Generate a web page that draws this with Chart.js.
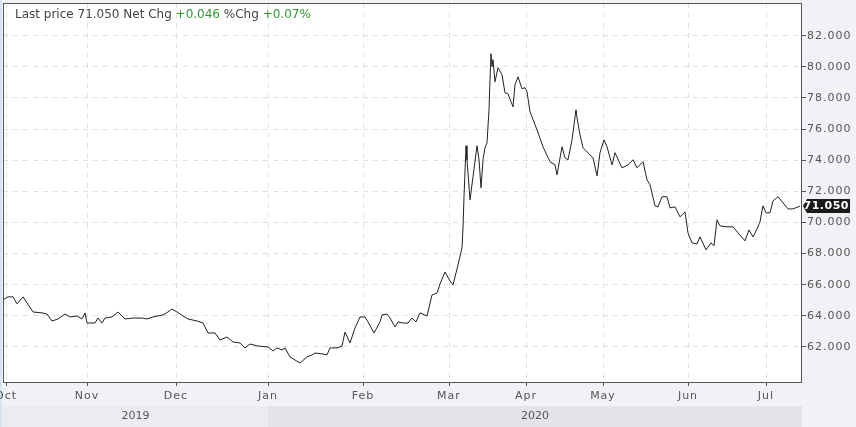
<!DOCTYPE html>
<html>
<head>
<meta charset="utf-8">
<script src="https://cdn.jsdelivr.net/npm/chart.js@4.4.1/dist/chart.umd.min.js"></script>
<style>
  html, body { margin: 0; padding: 0; background: #f1f2f5; }
  #wrap { width: 856px; height: 427px; }
</style>
</head>
<body>
<div id="wrap"><canvas id="myChart" width="856" height="427"></canvas></div>
<script>
// session index on the x axis (half-session steps), closing price on the y axis
const sessionIdx = [
  0, 2.5, 5, 7, 10, 15, 19.5, 22, 24.5, 27.5,
  31, 33.5, 37, 39.5, 41, 42, 46, 47.5, 49.5, 51,
  54.5, 57.5, 61, 65, 69.5, 72, 75, 80, 82.5, 84.5,
  87, 90, 92.5, 97, 100, 102.5, 106, 108.5, 112, 115,
  118.5, 121, 123.5, 127.5, 132.5, 135, 137, 139.5, 141, 143.5,
  146, 148.5, 152, 154.5, 156, 160, 162, 163.5, 167, 169.5,
  171, 173.5, 176, 178.5, 181, 182.5, 185.5, 188.5, 189.5, 192,
  193.5, 196, 197.5, 200, 202.5, 204.5, 206.5, 208.5, 212, 214.5,
  217, 218.5, 221, 223.5, 225, 227.5, 229.5, 230, 230.5, 231.5,
  232, 233.5, 235, 237, 238, 239, 240, 241, 242, 243,
  243.5, 244, 244.5, 245, 246, 247.5, 249.5, 251, 252.5, 255,
  256, 257.5, 259.5, 261, 262, 263.5, 267, 270, 273.5, 276,
  277, 279.5, 281, 282.5, 284.5, 286.5, 287, 288.5, 290, 295,
  297, 298.5, 300.5, 302, 304.5, 306, 309.5, 312.5, 315, 317,
  320, 322, 323.5, 326, 327.5, 329.5, 332, 333.5, 336, 338.5,
  341, 342.5, 344.5, 347, 348.5, 351.5, 354, 355.5, 357, 358.5,
  362, 365, 367.5, 371, 373, 375, 377, 378.5, 380, 381.5,
  383.5, 385, 387.5, 390, 392.5, 395, 398.5
];
const closes = [
  65.02, 65.22, 65.22, 64.77, 65.22, 64.25, 64.19, 64.12, 63.67, 63.80,
  64.12, 63.93, 63.99, 63.80, 64.19, 63.54, 63.54, 63.86, 63.54, 63.86,
  63.93, 64.25, 63.80, 63.86, 63.86, 63.80, 63.93, 64.06, 64.25, 64.44,
  64.25, 63.99, 63.80, 63.67, 63.54, 62.90, 62.90, 62.45, 62.64, 62.32,
  62.26, 61.94, 62.19, 62.06, 62.00, 61.74, 61.94, 61.81, 61.94, 61.36,
  61.16, 60.97, 61.36, 61.49, 61.61, 61.55, 61.49, 61.94, 61.94, 62.06,
  62.96, 62.26, 63.22, 63.93, 63.93, 63.61, 62.90, 63.61, 64.06, 64.12,
  63.86, 63.29, 63.61, 63.54, 63.54, 63.86, 63.61, 64.19, 63.99, 65.34,
  65.47, 66.05, 66.82, 66.24, 65.99, 67.27, 68.37, 69.65, 71.65, 74.93,
  74.03, 71.45, 72.93, 74.93, 74.03, 72.23, 74.03, 74.80, 75.12, 77.24,
  79.17, 80.84, 80.01, 80.46, 79.04, 79.94, 79.49, 78.33, 78.27, 77.43,
  78.85, 79.36, 78.59, 78.66, 78.40, 77.11, 75.95, 74.86, 73.90, 73.70,
  73.06, 74.86, 74.15, 74.03, 75.31, 77.24, 76.73, 75.63, 74.80, 74.15,
  73.00, 74.48, 75.31, 74.86, 73.70, 74.48, 73.51, 73.70, 74.03, 73.51,
  73.90, 72.74, 72.42, 71.07, 71.00, 71.65, 71.65, 70.94, 71.00, 70.36,
  70.68, 69.33, 68.69, 68.62, 69.07, 68.24, 68.69, 68.50, 70.17, 69.78,
  69.72, 69.72, 69.33, 68.82, 69.52, 69.07, 69.59, 70.04, 71.07, 70.62,
  70.62, 71.39, 71.65, 71.26, 70.87, 70.87, 71.05
];

const monthTicks = [1.5, 42, 86.5, 132.5, 180, 223, 261.5, 300, 342.5, 381.5];
const monthLabels = ['Oct', 'Nov', 'Dec', 'Jan', 'Feb', 'Mar', 'Apr', 'May', 'Jun', 'Jul'];
const priceTicks = [62, 64, 66, 68, 70, 72, 74, 76, 78, 80, 82];
const yearLabels = ['2019', '2020'];
const yearStartTick = 3; // index of Jan in monthTicks
const lastPrice = 71.050;
const netChg = 0.046;
const pctChg = 0.07;

const FONT = 'DejaVu Sans';
const GREY_TXT = '#555';

const decorPlugin = {
  id: 'decor',
  beforeDraw(chart) {
    const { ctx, chartArea: a, width, height } = chart;
    const x = chart.scales.x;
    ctx.save();
    ctx.letterSpacing = '0px';
    ctx.fillStyle = '#f1f2f5';
    ctx.fillRect(0, 0, width, height);
    ctx.fillStyle = '#d6e3f1';
    ctx.fillRect(0, 0, a.left - 1, height);
    ctx.fillStyle = '#ffffff';
    ctx.fillRect(a.left, a.top, a.right - a.left, a.bottom - a.top);

    // year band
    const bandTop = 406;
    const split = x.getPixelForValue(monthTicks[yearStartTick]);
    ctx.fillStyle = '#ebecef';
    ctx.fillRect(a.left - 1, bandTop, split - a.left + 1, height - bandTop);
    ctx.fillStyle = '#e3e4e7';
    ctx.fillRect(split, bandTop, a.right - split, height - bandTop);
    ctx.fillStyle = GREY_TXT;
    ctx.font = '11px ' + FONT;
    ctx.textAlign = 'center';
    ctx.textBaseline = 'middle';
    ctx.fillText(yearLabels[0], (a.left + split) / 2, 416);
    ctx.fillText(yearLabels[1], (split + a.right) / 2, 416);
    ctx.restore();
    // spaced-out axis labels, as in the reference
    ctx.letterSpacing = '1px';
  },
  afterDraw(chart) {
    const { ctx, chartArea: a } = chart;
    const y = chart.scales.y;
    ctx.save();
    ctx.letterSpacing = '0px';
    // frame
    ctx.strokeStyle = '#555';
    ctx.lineWidth = 1;
    ctx.strokeRect(a.left + 0.5, a.top + 0.5, a.right - a.left - 1, a.bottom - a.top);

    // header
    ctx.font = '12px ' + FONT;
    ctx.textBaseline = 'alphabetic';
    ctx.textAlign = 'left';
    const parts = [
      ['Last price ' + lastPrice.toFixed(3) + ' Net Chg ', '#444'],
      ['+' + netChg.toFixed(3), '#2f9a2f'],
      [' %Chg ', '#444'],
      ['+' + pctChg.toFixed(2) + '%', '#2f9a2f']
    ];
    let tx = 15;
    parts.forEach(([t, c]) => {
      ctx.fillStyle = c;
      ctx.fillText(t, tx, 18);
      tx += ctx.measureText(t).width;
    });

    // last price tag
    const py = Math.round(y.getPixelForValue(lastPrice));
    const x0 = a.right + 1, x1 = x0 + 4, x2 = 850;
    ctx.fillStyle = '#1a1a1a';
    ctx.beginPath();
    ctx.moveTo(x0, py);
    ctx.lineTo(x1, py - 7);
    ctx.lineTo(x2, py - 7);
    ctx.lineTo(x2, py + 7);
    ctx.lineTo(x1, py + 7);
    ctx.closePath();
    ctx.fill();
    ctx.fillStyle = '#ffffff';
    ctx.font = 'bold 11px ' + FONT;
    ctx.letterSpacing = '0.5px';
    ctx.textBaseline = 'middle';
    ctx.textAlign = 'right';
    ctx.fillText(lastPrice.toFixed(3), x2 - 1, py + 0.5);
    ctx.restore();
  }
};

const noPad = (s) => {
  s.paddingLeft = 0;
  s.paddingRight = 0;
  s.paddingTop = 0;
  s.paddingBottom = 0;
};

const ctx = document.getElementById('myChart').getContext('2d');
const chart = new Chart(ctx, {
  type: 'line',
  data: {
    datasets: [{
      data: sessionIdx.map((t, i) => ({ x: t, y: closes[i] })),
      borderColor: '#222',
      borderWidth: 1,
      pointRadius: 0,
      tension: 0,
      fill: false
    }]
  },
  options: {
    responsive: false,
    animation: false,
    devicePixelRatio: 1,
    layout: { padding: { top: 3, left: 3, right: 0, bottom: 0 } },
    plugins: {
      legend: { display: false },
      tooltip: { enabled: false }
    },
    scales: {
      x: {
        type: 'linear',
        min: 0,
        max: 399.5,
        afterBuildTicks: (s) => { s.ticks = monthTicks.map(v => ({ value: v })); },
        afterFit: (s) => { s.height = 45; noPad(s); },
        grid: { color: '#e0e0e0', tickColor: '#555', tickLength: 4, tickBorderDash: [] },
        border: { display: false, dash: [5, 5] },
        ticks: {
          autoSkip: false,
          maxRotation: 0,
          padding: 4,
          color: GREY_TXT,
          font: { family: FONT, size: 11 },
          callback: (v) => {
            const i = monthTicks.indexOf(v);
            return i >= 0 ? monthLabels[i] : '';
          }
        }
      },
      y: {
        position: 'right',
        min: 59.75,
        max: 84.1,
        afterBuildTicks: (s) => { s.ticks = priceTicks.map(v => ({ value: v })); },
        afterFit: (s) => { s.width = 54; noPad(s); },
        grid: { color: '#e0e0e0', tickColor: '#555', tickLength: 4, tickBorderDash: [] },
        border: { display: false, dash: [5, 5] },
        ticks: {
          padding: 1,
          color: GREY_TXT,
          font: { family: FONT, size: 11 },
          callback: (v) => v.toFixed(3)
        }
      }
    }
  },
  plugins: [decorPlugin]
});
</script>
</body>
</html>
